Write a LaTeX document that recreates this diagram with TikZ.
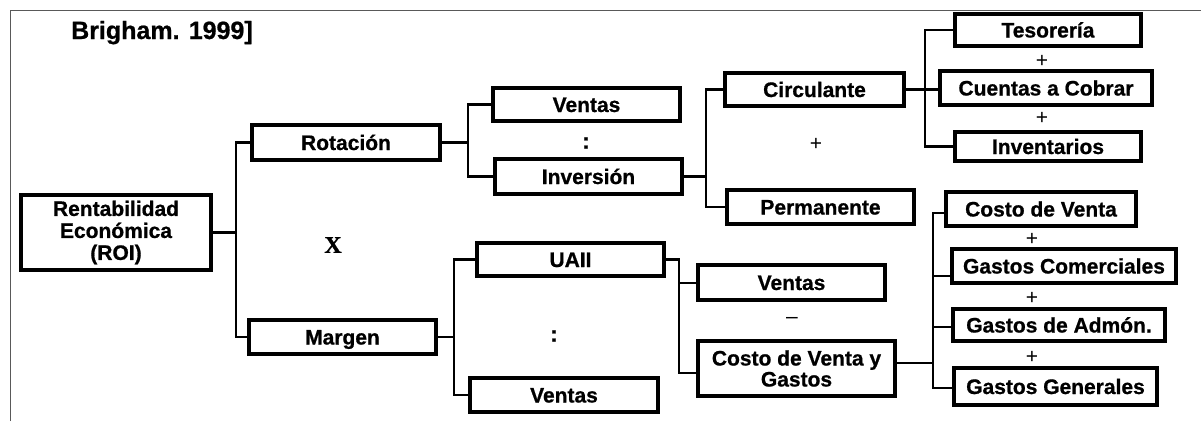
\documentclass[tikz,border=0pt]{standalone}
\usepackage{fontspec}
\setmainfont{Liberation Sans}[BoldFeatures={FakeBold=0.8}]
\newfontfamily\serifx{Liberation Serif}[BoldFeatures={FakeBold=1}]
\begin{document}
\begin{tikzpicture}[x=1pt,y=-1pt,
  bx/.style 2 args={draw=black, line width=4pt, inner sep=0pt,
    minimum width=#1pt-4pt, minimum height=#2pt-4pt,
    font=\fontsize{21}{22}\selectfont\bfseries, align=center},
  sb/.style={text height=15pt, text depth=0pt},
  cn/.style={line width=2.4pt, line join=miter},
  op/.style={font=\fontsize{21}{22}\selectfont, inner sep=0pt},
  opb/.style={font=\fontsize{22}{22}\selectfont\bfseries, inner sep=0pt}]
\useasboundingbox (0,0) rectangle (1201,421);
% frame
\draw[color=black!65, line width=1pt] (10,421) -- (10,10) -- (1201,10);
% title
\node[anchor=base west, inner sep=0pt, font=\fontsize{25}{26}\selectfont\bfseries] (title) at (71,39) {Brigham. 1999]};
% boxes
\node[bx={194}{79}] (roi) at (116,232.5) {Rentabilidad\\Económica\\(ROI)};
\node[bx={192}{39},sb] (rot) at (346,142.5) {Rotación};
\node[bx={191}{38},sb] (mar) at (342.5,337) {Margen};
\node[bx={191}{37},sb] (ven1) at (586.5,104.5) {Ventas};
\node[bx={191}{39},sb] (inv) at (588.5,176.5) {Inversión};
\node[bx={183}{37},sb] (cir) at (814.5,89.5) {Circulante};
\node[bx={191}{38},sb] (per) at (820.5,207) {Permanente};
\node[bx={191}{37},sb] (uaii) at (570.5,259.5) {UAII};
\node[bx={192}{38},sb] (ven2) at (564,395) {Ventas};
\node[bx={191}{39},sb] (ven3) at (791.5,282.5) {Ventas};
\node[bx={201}{59}, font=\fontsize{21}{21}\selectfont\bfseries] (cvg) at (796.5,368.5) {Costo de Venta y\\Gastos};
\node[bx={190}{36},sb] (tes) at (1048,30) {Tesorería};
\node[bx={216}{38},sb] (cue) at (1046,88) {Cuentas a Cobrar};
\node[bx={190}{33},sb] (inve) at (1048,146.5) {Inventarios};
\node[bx={194}{38},sb] (cdv) at (1041,209) {Costo de Venta};
\node[bx={228}{38},sb] (gco) at (1064,266) {Gastos Comerciales};
\node[bx={216}{36},sb] (gad) at (1059,325) {Gastos de Admón.};
\node[bx={207}{41},sb] (gge) at (1055.5,386.5) {Gastos Generales};
% operators
\node[font=\fontsize{24}{24}\selectfont\serifx\bfseries, inner sep=0pt] (opx) at (333,245) {X};
\node[opb] (c1) at (586,143) {:};
\node[opb] (c2) at (554,336) {:};
\node[op] (p1) at (816,144) {+};
\node[op] (m1) at (792,320) {–};
\node[op] (p2) at (1042,61) {+};
\node[op] (p3) at (1042,118) {+};
\node[op] (p4) at (1032,239) {+};
\node[op] (p5) at (1032,298) {+};
\node[op] (p6) at (1032,357) {+};
% junctions
\coordinate (j1) at (236,232.5);
\coordinate (j2) at (468,142.5);
\coordinate (j3) at (706,176.5);
\coordinate (j4) at (925,89.5);
\coordinate (j5) at (454,337);
\coordinate (j6) at (679,259.5);
\coordinate (j6b) at (679,373);
\coordinate (j6m) at (679,283);
\coordinate (j7) at (933,363);
\coordinate (k1) at (933,213);
\coordinate (k2) at (933,276);
\coordinate (k3) at (933,327);
\coordinate (k4) at (933,388);
% connectors
\draw[cn] (roi.east) -- (j1);
\draw[cn] (rot.west) -| (j1) |- (mar.west);
\draw[cn] (rot.east) -- (j2);
\draw[cn] (ven1.west) -| (j2) |- (inv.west);
\draw[cn] (inv.east) -- (j3);
\draw[cn] (cir.west) -| (j3) |- (per.west);
\draw[cn] (cir.east) -- (j4) -- (j4 -| cue.west);
\draw[cn] (tes.west) -| (j4) |- (inve.west);
\draw[cn] (mar.east) -- (j5);
\draw[cn] (uaii.west) -| (j5) |- (ven2.west);
\draw[cn] (uaii.east) -- (j6) -- (j6b) -- (j6b -| cvg.west);
\draw[cn] (j6m) -- (j6m -| ven3.west);
\draw[cn] (cvg.east |- j7) -- (j7);
\draw[cn] (k1 -| cdv.west) -- (k1) -- (k4) -- (k4 -| gge.west);
\draw[cn] (k2) -- (k2 -| gco.west);
\draw[cn] (k3) -- (k3 -| gad.west);
\end{tikzpicture}
\end{document}
